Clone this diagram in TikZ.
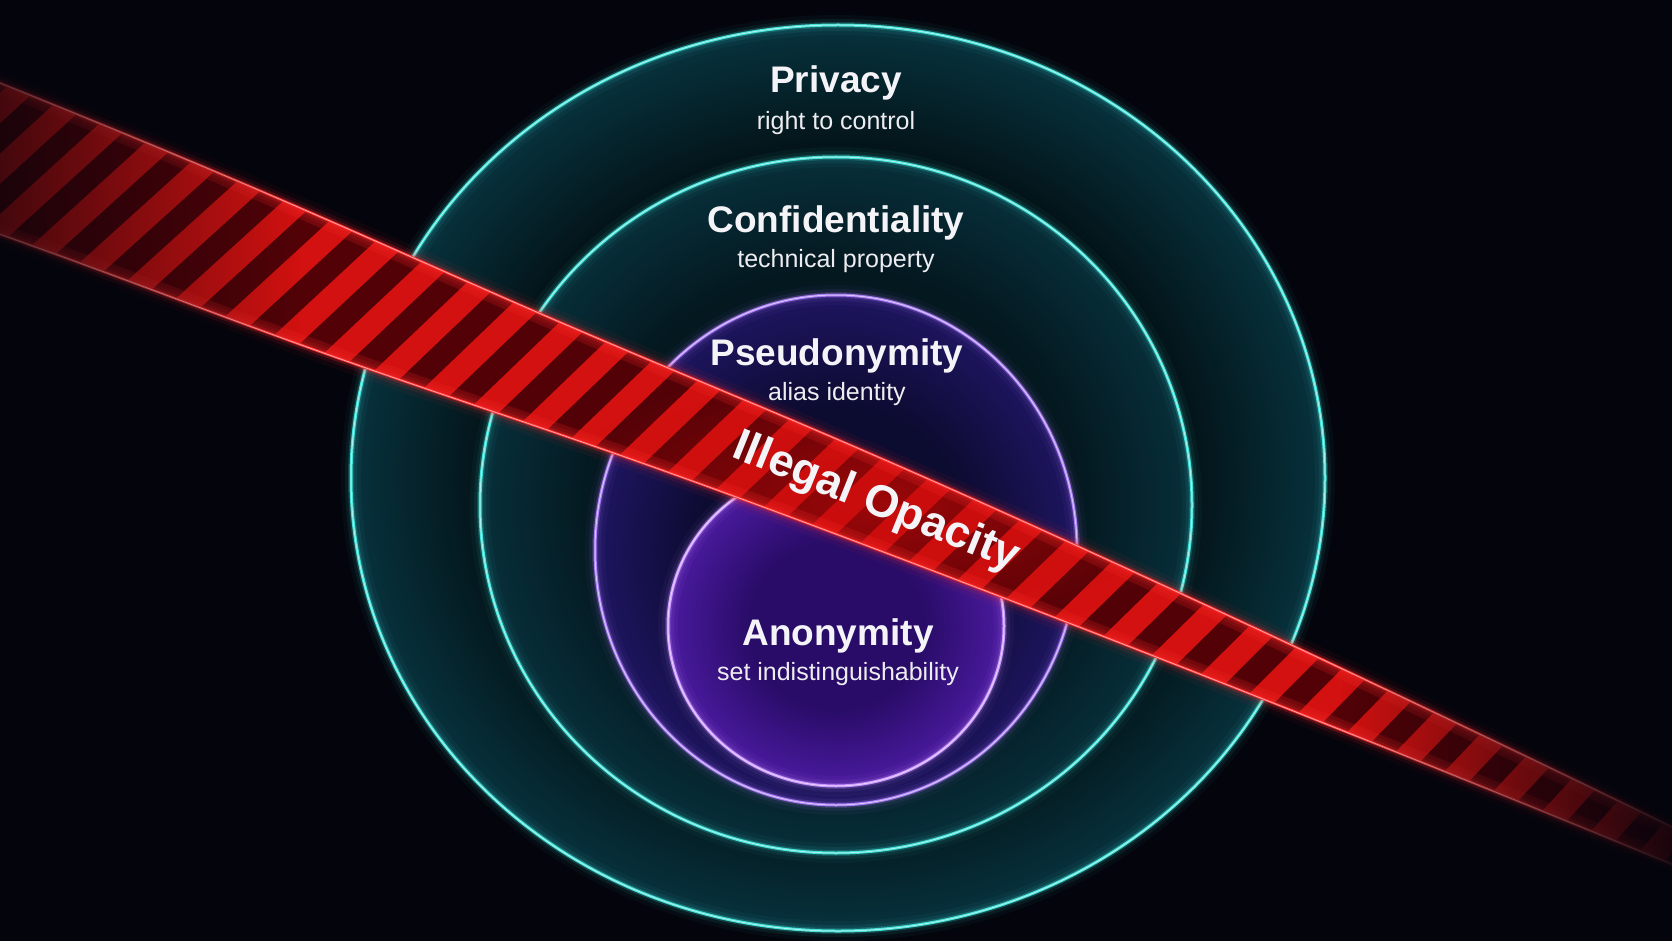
\documentclass[tikz,border=0pt]{standalone}
\usepackage{fontspec}
\setmainfont{Liberation Sans}
\usetikzlibrary{fadings}
\definecolor{bg}{HTML}{03040C}
\definecolor{tealline}{HTML}{3FE0D6}
\definecolor{ringA}{HTML}{031318}
\definecolor{ringB}{HTML}{07323D}
\definecolor{ringC}{HTML}{041820}
\definecolor{ringD}{HTML}{072F3A}
\definecolor{pseA}{HTML}{0C0B30}
\definecolor{pseB}{HTML}{1E1560}
\definecolor{pseline}{HTML}{A77AF5}
\definecolor{anoA}{HTML}{290C68}
\definecolor{anoB}{HTML}{4A1A9E}
\definecolor{anoline}{HTML}{C894FF}
\definecolor{bandDark}{HTML}{520207}
\definecolor{bandBright}{HTML}{D21110}
\definecolor{bandGlow}{HTML}{C40A0A}
\definecolor{edgeRed}{HTML}{FF2B2B}
\definecolor{txt}{HTML}{F4F4F8}
\pgfdeclareradialshading{outersh}{\pgfpoint{0bp}{0bp}}{color(0bp)=(ringA); color(18bp)=(ringA); color(25bp)=(ringB); color(50bp)=(ringB)}
\pgfdeclareradialshading{secondsh}{\pgfpoint{0bp}{0bp}}{color(0bp)=(ringC); color(17bp)=(ringC); color(25bp)=(ringD); color(50bp)=(ringD)}
\pgfdeclareradialshading{psesh}{\pgfpoint{0bp}{0bp}}{color(0bp)=(pseA); color(14bp)=(pseA); color(25bp)=(pseB); color(50bp)=(pseB)}
\pgfdeclareradialshading{anosh}{\pgfpoint{0bp}{0bp}}{color(0bp)=(anoA); color(13bp)=(anoA); color(25bp)=(anoB); color(50bp)=(anoB)}
\tikzfading[name=fadeL, left color=transparent!30, right color=transparent!100]
\tikzfading[name=fadeR, left color=transparent!100, right color=transparent!8]
\tikzfading[name=glowfade, inner color=transparent!35, outer color=transparent!100]
\newcommand\neonring[4]{%
  \draw[#4, line width=20pt, opacity=.04] #1 ellipse [x radius=#2, y radius=#3];
  \draw[#4, line width=12pt, opacity=.08] #1 ellipse [x radius=#2, y radius=#3];
  \draw[#4, line width=6pt, opacity=.2] #1 ellipse [x radius=#2, y radius=#3];
  \draw[#4, line width=3pt] #1 ellipse [x radius=#2, y radius=#3];
  \draw[#4!45!white, line width=1pt] #1 ellipse [x radius=#2, y radius=#3];
}
\tikzset{
  title/.style={text=txt, font=\bfseries\fontsize{37}{40}\selectfont, anchor=base},
  subtitle/.style={text=txt!94!gray, font=\fontsize{25}{28}\selectfont, anchor=base},
}
\begin{document}
\begin{tikzpicture}[x=1pt,y=-1pt,
  declare function={bt(\x)=83+0.402*\x+0.257*(\x/100)*(\x/100)+6*exp(-((\x-560)/250)*((\x-560)/250));
                    bb(\x)=233+0.3424*\x+0.21*(\x/100)*(\x/100)+7*exp(-((\x-330)/250)*((\x-330)/250));
                    bw(\x)=bb(\x)-bt(\x);}]
\useasboundingbox (0,0) rectangle (1672,941);
\fill[bg] (0,0) rectangle (1672,941);

% rings
\shade[shading=outersh] (838,478) ellipse [x radius=487, y radius=453];
\neonring{(838,478)}{487}{453}{tealline}
\shade[shading=secondsh] (836,505) ellipse [x radius=356, y radius=348];
\neonring{(836,505)}{356}{348}{tealline}
\shade[shading=psesh] (836,550) ellipse [x radius=241, y radius=255];
\neonring{(836,550)}{241}{255}{pseline}
\shade[shading=anosh] (836,626) ellipse [x radius=168, y radius=160];
\neonring{(836,626)}{168}{160}{anoline}

% labels
\node[title] (privacy) at (836,93) {Privacy};
\node[subtitle] (privsub) at (836,130) {right to control};
\node[title] (conf) at (836,233) {Confidentiality};
\node[subtitle] (confsub) at (836,268) {technical property};
\node[title] (pseudo) at (837,365) {Pseudonymity};
\node[subtitle] (pseudosub) at (837,400) {alias identity};
\node[title] (anon) at (838,645) {Anonymity};
\node[subtitle] (anonsub) at (838,680) {set indistinguishability};

% band
\begin{scope}
  \clip plot[domain=-60:1760,samples=80] (\x,{bt(\x)}) -- plot[domain=1760:-60,samples=80] (\x,{bb(\x)}) -- cycle;
  \fill[bandDark] (-60,0) rectangle (1760,941);
  \foreach \i in {0,...,43}{
    \pgfmathsetmacro\xa{-80+46*\i}
    \pgfmathsetmacro\xb{\xa+23}
    \pgfmathsetmacro\ya{bt(\xa)-6}
    \pgfmathsetmacro\yb{bt(\xb)-6}
    \pgfmathsetmacro\xc{\xb-0.85*bw(\xb)}
    \pgfmathsetmacro\xd{\xa-0.85*bw(\xa)}
    \pgfmathsetmacro\yc{bb(\xc)+6}
    \pgfmathsetmacro\yd{bb(\xd)+6}
    \fill[bandBright] (\xa,\ya) -- (\xb,\yb) -- (\xc,\yc) -- (\xd,\yd) -- cycle;
  }
  \begin{scope}[shift={(876,503)},rotate=-22]
    \fill[bandGlow, path fading=glowfade] (0,0) ellipse [x radius=330, y radius=80];
  \end{scope}
  \draw[edgeRed, line width=20pt, opacity=.16] plot[domain=-60:1760,samples=80] (\x,{bt(\x)});
  \draw[edgeRed, line width=20pt, opacity=.16] plot[domain=-60:1760,samples=80] (\x,{bb(\x)});
\end{scope}
\foreach \w/\o in {22/.05, 13/.1, 7/.2}{
  \draw[edgeRed, line width=\w pt, opacity=\o] plot[domain=-60:1760,samples=80] (\x,{bt(\x)});
  \draw[edgeRed, line width=\w pt, opacity=\o] plot[domain=-60:1760,samples=80] (\x,{bb(\x)});
}
\draw[edgeRed, line width=2.6pt] plot[domain=-60:1760,samples=80] (\x,{bt(\x)});
\draw[edgeRed, line width=2.6pt] plot[domain=-60:1760,samples=80] (\x,{bb(\x)});
\draw[edgeRed!40!white, line width=.8pt] plot[domain=-60:1760,samples=80] (\x,{bt(\x)});
\draw[edgeRed!40!white, line width=.8pt] plot[domain=-60:1760,samples=80] (\x,{bb(\x)});

% fading of band ends
\fill[bg, path fading=fadeL] (-5,30) rectangle (300,430);
\fill[bg, path fading=fadeR] (1340,580) rectangle (1680,945);

% band label
\node[rotate=-22, text=txt, font=\bfseries\fontsize{45}{48}\selectfont] (lbl) at (876,503) {Illegal Opacity};
\end{tikzpicture}
\end{document}
